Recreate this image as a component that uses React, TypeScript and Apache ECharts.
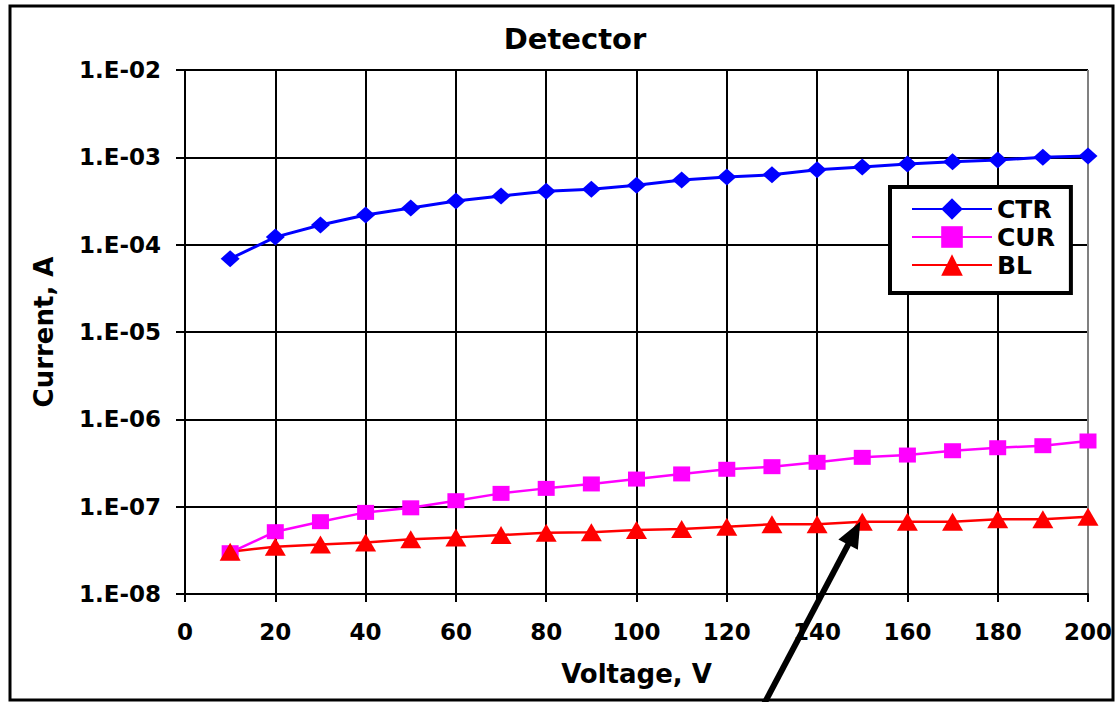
import React, { useEffect, useRef } from "react";
import * as echarts from "echarts";

const voltage = [10, 20, 30, 40, 50, 60, 70, 80, 90, 100, 110, 120, 130, 140, 150, 160, 170, 180, 190, 200];
const ctr = [6.9e-5, 1.22e-4, 1.68e-4, 2.19e-4, 2.63e-4, 3.16e-4, 3.6e-4, 4.1e-4, 4.3e-4, 4.8e-4, 5.5e-4, 5.95e-4, 6.3e-4, 7.2e-4, 7.76e-4, 8.4e-4, 8.9e-4, 9.3e-4, 1.0e-3, 1.035e-3];
const cur = [2.97e-8, 5.17e-8, 6.73e-8, 8.6e-8, 9.7e-8, 1.17e-7, 1.42e-7, 1.62e-7, 1.82e-7, 2.07e-7, 2.37e-7, 2.68e-7, 2.87e-7, 3.22e-7, 3.67e-7, 3.9e-7, 4.37e-7, 4.73e-7, 4.99e-7, 5.65e-7];
const bl = [3.05e-8, 3.48e-8, 3.7e-8, 3.9e-8, 4.23e-8, 4.45e-8, 4.73e-8, 5.03e-8, 5.08e-8, 5.4e-8, 5.55e-8, 5.9e-8, 6.28e-8, 6.28e-8, 6.73e-8, 6.73e-8, 6.73e-8, 7.16e-8, 7.16e-8, 7.67e-8];
const seriesNames = ["CTR", "CUR", "BL"];
const xTicks = { min: 0, max: 200, interval: 20 };
const yRange = { min: 1e-8, max: 1e-2 };
const arrowTarget = { x: 150, seriesIndex: 2 };

const FONT = "DejaVu Sans";

function fmtExp(v: number) {
  const e = Math.round(Math.log10(v));
  return "1.E-" + String(-e).padStart(2, "0");
}

export default function App() {
  const ref = useRef<HTMLDivElement>(null);
  useEffect(() => {
    document.body.style.margin = "0";
    const chart = echarts.init(ref.current!, null, { renderer: "svg" });
    const pair = (ys: number[]) => voltage.map((x, i) => [x, ys[i]]);
    const xLines = (xTicks.max - xTicks.min) / xTicks.interval + 1;
    const yLines = Math.round(Math.log10(yRange.max / yRange.min)) + 1;
    const xColors = Array.from({ length: xLines }, (_, i) => (i === xLines - 1 ? "#808080" : "#000"));
    const yColors = Array.from({ length: yLines }, (_, i) => (i === yLines - 1 ? "#808080" : "#000"));
    chart.setOption({
      animation: false,
      backgroundColor: "#fff",
      title: {
        text: "Detector",
        left: 570,
        top: 19,
        textAlign: "center",
        textStyle: { fontFamily: FONT, fontWeight: "bold", fontSize: 29, color: "#000" },
      },
      grid: { left: 185, right: 28, top: 70, bottom: 108 },
      legend: {
        orient: "vertical",
        left: 890,
        top: 187,
        data: seriesNames,
        itemWidth: 80,
        itemHeight: 27,
        itemGap: 0,
        borderColor: "#000",
        borderWidth: 4,
        padding: [8, 16, 14, 21],
        textStyle: { fontFamily: FONT, fontWeight: "bold", fontSize: 25, color: "#000", lineHeight: 28 },
        backgroundColor: "#fff",
      },
      xAxis: {
        type: "value",
        min: xTicks.min,
        max: xTicks.max,
        interval: xTicks.interval,
        name: "Voltage, V",
        nameLocation: "middle",
        nameGap: 67,
        nameTextStyle: { fontFamily: FONT, fontWeight: "bold", fontSize: 26, color: "#000" },
        axisLine: { lineStyle: { color: "#000", width: 2 } },
        axisTick: { show: true, length: 8, lineStyle: { color: "#000", width: 2 } },
        axisLabel: { fontFamily: FONT, fontWeight: "bold", fontSize: 23, color: "#000", margin: 26 },
        splitLine: { show: true, lineStyle: { color: xColors, width: 2 } },
      },
      yAxis: {
        type: "log",
        logBase: 10,
        min: yRange.min,
        max: yRange.max,
        name: "Current, A",
        nameLocation: "middle",
        nameGap: 128,
        nameTextStyle: { fontFamily: FONT, fontWeight: "bold", fontSize: 26, color: "#000" },
        axisLine: { show: true, lineStyle: { color: "#000", width: 2 } },
        axisTick: { show: true, length: 9, lineStyle: { color: "#000", width: 2 } },
        minorTick: { show: false },
        axisLabel: { fontFamily: FONT, fontWeight: "bold", fontSize: 23, color: "#000", margin: 24, formatter: fmtExp },
        splitLine: { show: true, lineStyle: { color: yColors, width: 2 } },
      },
      series: [
        {
          name: seriesNames[0],
          type: "line",
          data: pair(ctr),
          symbol: "diamond",
          symbolSize: [19, 17],
          lineStyle: { color: "#0000ff", width: 3 },
          itemStyle: { color: "#0000ff" },
        },
        {
          name: seriesNames[1],
          type: "line",
          data: pair(cur),
          symbol: "rect",
          symbolSize: [17, 15],
          lineStyle: { color: "#ff00ff", width: 2.5 },
          itemStyle: { color: "#ff00ff" },
        },
        {
          name: seriesNames[2],
          type: "line",
          data: pair(bl),
          symbol: "triangle",
          symbolSize: [21, 18],
          lineStyle: { color: "#ff0000", width: 2.5 },
          itemStyle: { color: "#ff0000" },
        },
      ],
    });
    const idx = voltage.indexOf(arrowTarget.x);
    const tip = chart.convertToPixel({ gridIndex: 0 }, [arrowTarget.x, bl[idx]]) as number[];
    const tx = tip[0] - 2;
    const ty = tip[1];
    const dx = -95, dy = 180;
    const len = Math.hypot(dx, dy);
    const ux = dx / len, uy = dy / len;
    const px = -uy, py = ux;
    const headLen = 26, headW = 11;
    const bx = tx + ux * headLen, by = ty + uy * headLen;
    chart.setOption({
      graphic: [
        {
          type: "rect",
          shape: { x: 10, y: 6, width: 1103, height: 694 },
          style: { fill: "none", stroke: "#000", lineWidth: 3 },
          z: 100,
        },
        {
          type: "line",
          shape: { x1: bx - ux * 2, y1: by - uy * 2, x2: tx + ux * 260, y2: ty + uy * 260 },
          style: { stroke: "#000", lineWidth: 6 },
          z: 100,
        },
        {
          type: "polygon",
          shape: {
            points: [
              [tx, ty],
              [bx + px * headW, by + py * headW],
              [bx - px * headW, by - py * headW],
            ],
          },
          style: { fill: "#000" },
          z: 100,
        },
      ],
    });
    return () => chart.dispose();
  }, []);
  return <div ref={ref} style={{ width: 1116, height: 702 }} />;
}
